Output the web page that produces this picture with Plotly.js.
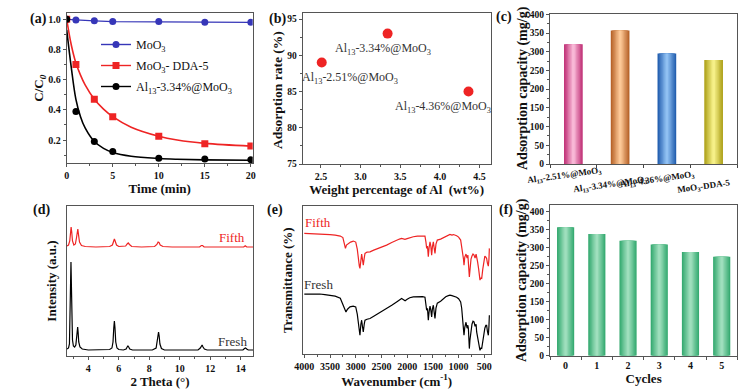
<!DOCTYPE html>
<html><head><meta charset="utf-8">
<script src="https://cdn.plot.ly/plotly-3.0.1.min.js"></script>
<style>html,body{margin:0;padding:0;background:#fff}#chart{width:752px;height:391px}</style>
</head><body><div id="chart"></div>
<script>
// ---- (a) kinetics ----
const timeMin = [0, 1, 3, 5, 10, 15, 20];
const moo3 = [1.0, 0.995, 0.99, 0.985, 0.985, 0.98, 0.98];
const dda5 = [1.0, 0.70, 0.47, 0.355, 0.225, 0.175, 0.16];
const al13 = [1.0, 0.39, 0.19, 0.125, 0.08, 0.075, 0.07];
const fitTime = [0, 0.5, 1, 1.5, 2, 3, 4, 5, 7, 10, 12, 15, 20];
const dda5Fit = [1.0, 0.83, 0.71, 0.63, 0.565, 0.47, 0.405, 0.355, 0.285, 0.225, 0.2, 0.178, 0.16];
const al13Fit = [0.93, 0.68, 0.47, 0.355, 0.28, 0.19, 0.145, 0.118, 0.093, 0.078, 0.073, 0.069, 0.066];
const legendNames = ['MoO<sub>3</sub>', 'MoO<sub>3</sub>- DDA-5', 'Al<sub>13</sub>-3.34%@MoO<sub>3</sub>'];

// ---- (b) adsorption rate ----
const alWt = [2.51, 3.34, 4.36];
const adsRate = [89, 93, 85];
const ptLabels = ['Al<sub>13</sub>-2.51%@MoO<sub>3</sub>', 'Al<sub>13</sub>-3.34%@MoO<sub>3</sub>', 'Al<sub>13</sub>-4.36%@MoO<sub>3</sub>'];
const ptLabelX = [2.87, 3.285, 4.04];
const ptLabelY = [86.9, 90.9, 82.9];

// ---- (c) capacity by sample ----
const capCats = [0, 1, 2, 3];
const capLabels = ['Al<sub>13</sub>-2.51%@MoO<sub>3</sub>', 'Al<sub>13</sub>-3.34%@MoO<sub>3</sub>', 'Al<sub>13</sub>-4.36%@MoO<sub>3</sub>', 'MoO<sub>3</sub>-DDA-5'];
const capValues = [320, 357, 295, 278];

// ---- (d) XRD ----
const xrdFreshX = [2.6,2.7,2.76,2.8,2.83,2.86,2.89,2.92,2.96,3.02,3.1,3.18,3.23,3.27,3.3,3.33,3.37,3.45,3.6,4.0,4.5,5.0,5.4,5.55,5.62,5.67,5.71,5.75,5.8,5.88,6.0,6.3,6.48,6.55,6.6,6.65,6.72,6.9,7.5,8.2,8.45,8.52,8.57,8.61,8.65,8.7,8.8,9.0,10,11.2,11.35,11.42,11.47,11.53,11.62,11.8,13,14.15,14.25,14.32,14.4,14.5,14.83];
const xrdFreshY = [7,8,12,35,75,94,70,35,16,10,9,11,18,27,29,24,14,9,7,6,6,6,6.5,8,14,28,35,28,14,8,6.5,6,7,9,10,9,7,6,6,6,8,14,22,24,20,12,7.5,6,6,6,8,10.5,11,9,7,6,6,6,7.5,8,7,6,6];
const xrdFifthX = [2.6,2.7,2.78,2.83,2.87,2.91,2.96,3.05,3.15,3.22,3.28,3.31,3.35,3.42,3.55,3.8,4.5,5.4,5.58,5.66,5.71,5.76,5.85,6.0,6.45,6.55,6.62,6.7,6.85,7.5,8.35,8.5,8.58,8.64,8.72,8.9,9.5,11.3,11.42,11.5,11.6,14.2,14.3,14.4,14.83];
const xrdFifthY = [110,111,115,124,129,124,115,111,112,118,126,127,122,114,110.5,109.5,109,109.5,111,115,117,115,111,109.5,110,112,113,111.5,109.5,109,109.5,111.5,114,113.5,111,109.5,109,109,110.5,110.5,109,109,110.3,109,109];

// ---- (e) FTIR ----
const irFifthX = [4000,3900,3800,3700,3600,3500,3400,3300,3250,3220,3200,3180,3145,3100,3047,3000,2970,2950,2930,2918,2900,2885,2870,2853,2835,2820,2780,2723,2650,2550,2464,2400,2300,2205,2150,2108,2070,2043,2000,1950,1881,1800,1700,1654,1635,1621,1605,1589,1575,1556,1540,1524,1510,1491,1475,1459,1440,1414,1350,1297,1250,1200,1168,1130,1100,1038,1000,960,940,921,905,895,880,856,835,820,810,800,791,780,759,740,720,700,680,660,649,630,610,595,584,570,551,530,515,506,490,470,455,440,422,410,402];
const irFifthY = [120.7,120.5,120.8,120.5,120,119.5,119,118,116.5,110,105.7,109,110.7,112,113,112,105,92.3,88,85.7,95,100,95,89,96,100.7,102,102.3,104,106,107.3,109,111.5,114,115,115.7,115,114.7,115.5,116.5,117.3,118,118.3,118,112,105.7,108,97.3,106,112.3,108,99,107,112.3,106,100.7,110,114,115,116.3,118,119,119.7,119,119.5,118.3,117,114,108,100.7,95,89,97,100,96,99,94,84,77.3,85,95,98,100,99,96,100,95,92,85,78,74,76,75.7,85,92,96,98,97,95.7,91,88,95,105.7];
const irFreshX = [4000,3900,3800,3700,3600,3500,3400,3300,3250,3220,3190,3160,3112,3050,3000,2970,2950,2930,2918,2900,2885,2870,2853,2835,2820,2780,2723,2650,2550,2464,2400,2300,2205,2150,2108,2070,2040,2000,1950,1881,1800,1700,1654,1635,1621,1605,1589,1575,1556,1540,1524,1510,1491,1475,1459,1440,1414,1350,1297,1250,1200,1168,1130,1100,1038,1000,960,940,921,905,895,880,856,835,820,810,800,791,780,759,740,720,700,680,660,649,630,610,595,584,570,551,530,515,506,490,470,455,440,422,410,402];
const irFreshY = [60,60.3,60.5,60.2,59.5,59,58,56,50,45,42.3,45,47.3,48,47.3,40,29,23,19,30,34,28,22.3,30,34,35,35.7,38,41,44,46,49,52.3,54,55.7,54.5,53.5,55,56.5,57.3,57.5,57.5,57,50,44,46,34,42,48,44,37.3,45,49,42,35.7,46,51,53,55.7,57.5,58.5,59,58.5,58,57,55.5,52.3,46,35.7,28,19,27,32,26,29,25.7,14,5.7,14,26,30,33,32.3,28,30,22.3,18,12,7,4,6,5.7,14,20,22.3,26,29,29,23,19,28,39];

// ---- (f) cycles ----
const cycles = [0, 1, 2, 3, 4, 5];
const cycleCap = [357, 338, 319, 309, 288, 275];

const F = 'Times New Roman, Liberation Serif, serif';
const INK = '#111';
const RED = '#ee2424';
const BLUE = '#3636b8';

function hex(h){return [parseInt(h.slice(1,3),16),parseInt(h.slice(3,5),16),parseInt(h.slice(5,7),16)];}
function mix(a,b,t){const A=hex(a),B=hex(b);return 'rgb('+A.map((v,i)=>Math.round(v+(B[i]-v)*t)).join(',')+')';}
function gradBars(x,y,xa,ya,edges,centers,width){
  const N=7, out=[];
  for(let i=0;i<N;i++){
    const t=i/(N-1);
    out.push({type:'bar',x:x,y:y,xaxis:xa,yaxis:ya,width:width*(1-i/N),
      marker:{color:edges.map((e,k)=>mix(e,centers[k],t)),line:{width:0}},
      showlegend:false,hoverinfo:'skip'});
  }
  return out;
}

const traces = [];
// (a)
traces.push({x:fitTime,y:dda5Fit,xaxis:'x',yaxis:'y',mode:'lines',line:{color:RED,width:1.6,shape:'spline'},showlegend:false});
traces.push({x:fitTime,y:al13Fit,xaxis:'x',yaxis:'y',mode:'lines',line:{color:'#000',width:1.6,shape:'spline'},showlegend:false});
traces.push({x:timeMin,y:moo3,xaxis:'x',yaxis:'y',mode:'lines+markers',line:{color:BLUE,width:1.4},marker:{color:BLUE,size:7},name:legendNames[0],legendgroup:'a'});
traces.push({x:timeMin,y:dda5,xaxis:'x',yaxis:'y',mode:'markers',marker:{color:RED,size:7,symbol:'square'},showlegend:false});
traces.push({x:timeMin,y:al13,xaxis:'x',yaxis:'y',mode:'markers',marker:{color:'#000',size:7},showlegend:false});
traces.push({x:[null],y:[null],xaxis:'x',yaxis:'y',mode:'lines+markers',line:{color:RED,width:1.4},marker:{color:RED,size:7,symbol:'square'},name:legendNames[1],legendgroup:'b'});
traces.push({x:[null],y:[null],xaxis:'x',yaxis:'y',mode:'lines+markers',line:{color:'#000',width:1.4},marker:{color:'#000',size:7},name:legendNames[2],legendgroup:'c'});
// (b)
traces.push({x:alWt,y:adsRate,xaxis:'x2',yaxis:'y2',mode:'markers',marker:{color:RED,size:10},showlegend:false});
// (c)
traces.push(...gradBars(capCats,capValues,'x3','y3',['#c2357a','#b8642a','#2560b0','#b0a41e'],['#f8b8d6','#fcc896','#90c0f2','#f6f088'],0.4));
// (d)
traces.push({x:xrdFifthX,y:xrdFifthY,xaxis:'x4',yaxis:'y4',mode:'lines',line:{color:RED,width:1.2},showlegend:false});
traces.push({x:xrdFreshX,y:xrdFreshY,xaxis:'x4',yaxis:'y4',mode:'lines',line:{color:'#000',width:1.2},showlegend:false});
// (e)
traces.push({x:irFifthX,y:irFifthY,xaxis:'x5',yaxis:'y5',mode:'lines',line:{color:RED,width:1.2},showlegend:false});
traces.push({x:irFreshX,y:irFreshY,xaxis:'x5',yaxis:'y5',mode:'lines',line:{color:'#000',width:1.2},showlegend:false});
// (f)
traces.push(...gradBars(cycles,cycleCap,'x6','y6',cycles.map(()=>'#38ab72'),cycles.map(()=>'#9fdfbd'),0.55));

const TF = {family:F,size:13,weight:'bold',color:INK};
function ax(o){
  const base = {showline:true,mirror:true,linecolor:'#555',linewidth:1,ticks:'outside',ticklen:3,tickwidth:1,tickcolor:'#555',
    showgrid:false,zeroline:false,tickfont:{family:F,size:10,weight:'bold',color:INK}};
  const r = Object.assign(base,o);
  if(o.title) r.title = Object.assign({font:TF},o.title);
  return r;
}
const smallTick = {family:F,size:9.5,weight:'bold',color:INK};
function px(x){return x/752;} function py(y){return 1-y/391;}

const layout = {
  width:752,height:391,margin:{l:0,r:0,t:0,b:0},paper_bgcolor:'#fff',plot_bgcolor:'#fff',
  font:{family:F,color:INK},barmode:'overlay',
  legend:{x:px(96),y:py(30),xanchor:'left',yanchor:'top',bgcolor:'rgba(0,0,0,0)',font:{family:F,size:12,color:INK},itemwidth:30,traceorder:'grouped',tracegroupgap:2},
  xaxis:ax({domain:[px(66.7),px(252.7)],anchor:'y',range:[0,20.2],tickvals:[0,5,10,15,20],minor:{dtick:2.5,ticks:'outside',ticklen:2},title:{text:'Time (min)',standoff:0}}),
  yaxis:ax({domain:[py(163),py(13.3)],anchor:'x',range:[0.048,1.04],tickvals:[0.2,0.4,0.6,0.8,1.0],ticktext:['0.2','0.4','0.6','0.8','1.0'],minor:{dtick:0.1,ticks:'outside',ticklen:2},title:{text:'C/C<sub><i>0</i></sub>',standoff:1}}),
  xaxis2:ax({domain:[px(302.7),px(490.7)],anchor:'y2',range:[2.27,4.64],tick0:2.5,dtick:0.5,tickformat:'.1f',minor:{dtick:0.25,ticks:'outside',ticklen:2},title:{text:'Weight percentage of Al\u00a0 (wt%)',standoff:0}}),
  yaxis2:ax({domain:[py(164),py(13.3)],anchor:'x2',range:[75,95.8],tick0:75,dtick:5,tickfont:smallTick,minor:{dtick:2.5,ticks:'outside',ticklen:2}}),
  xaxis3:ax({domain:[px(550),px(737)],anchor:'y3',range:[-0.5,3.5],tickvals:[0,1,2,3],ticktext:['','','',''],ticks:'',minor:{tickvals:[-0.5,0.5,1.5,2.5,3.5],ticks:'outside',ticklen:3}}),
  yaxis3:ax({domain:[py(164),py(14.3)],anchor:'x3',range:[0,400],dtick:50,tickfont:smallTick,minor:{dtick:25,ticks:'outside',ticklen:2}}),
  xaxis4:ax({domain:[px(66.7),px(253.3)],anchor:'y4',range:[2.58,14.83],tick0:0,dtick:2,minor:{dtick:1,ticks:'outside',ticklen:2},title:{text:'2 Theta (°)',standoff:0}}),
  yaxis4:ax({domain:[py(356),py(206)],anchor:'x4',range:[0,150],showticklabels:false,ticks:'',title:{text:'Intensity (a.u.)',standoff:6}}),
  xaxis5:ax({domain:[px(302.7),px(490.7)],anchor:'y5',range:[4031,376],tickvals:[4000,3500,3000,2500,2000,1500,1000,500],minor:{dtick:250,ticks:'outside',ticklen:2},title:{text:'Wavenumber (cm<sup>-1</sup>)',standoff:0}}),
  yaxis5:ax({domain:[py(354.3),py(206)],anchor:'x5',range:[0,148],showticklabels:false,ticks:'',title:{text:'Transmittance (%)',standoff:6}}),
  xaxis6:ax({domain:[px(550),px(737.3)],anchor:'y6',range:[-0.5,5.5],tickvals:[0,1,2,3,4,5],ticklen:0,minor:{tickvals:[-0.5,0.5,1.5,2.5,3.5,4.5,5.5],ticks:'outside',ticklen:3},title:{text:'Cycles',standoff:0}}),
  yaxis6:ax({domain:[py(355.7),py(205)],anchor:'x6',range:[0,418.6],tickvals:[0,50,100,150,200,250,300,350,400],tickfont:smallTick,minor:{dtick:25,ticks:'outside',ticklen:2}}),
  annotations:[]
};

// y-axis titles placed precisely
const yTitles = [['Adsorption rate (%)',278,90,13.5],['Adsorption capacity (mg/g)',523,88,14],['Adsorption capacity (mg/g)',522,280,14]];
yTitles.forEach(t=>layout.annotations.push({xref:'paper',yref:'paper',x:px(t[1]),y:py(t[2]),text:t[0],textangle:-90,showarrow:false,xanchor:'center',yanchor:'middle',font:{family:F,size:t[3],weight:'bold',color:INK}}));

const panelLbl = [['(a)',38.5,19],['(b)',277,19],['(c)',504,17],['(d)',41,210],['(e)',275,210],['(f)',506,210]];
panelLbl.forEach(p=>layout.annotations.push({xref:'paper',yref:'paper',x:px(p[1]),y:py(p[2]),text:p[0],showarrow:false,font:{family:F,size:14,weight:'bold',color:INK},xanchor:'center',yanchor:'middle'}));

ptLabels.forEach((t,i)=>layout.annotations.push({xref:'x2',yref:'y2',x:ptLabelX[i],y:ptLabelY[i],text:t,showarrow:false,font:{family:F,size:12,color:'#333'},xanchor:'center',yanchor:'middle'}));

const capLabelY = [175, 184, 179, 186];
capLabels.forEach((t,i)=>layout.annotations.push({xref:'x3',yref:'paper',x:capCats[i]-0.2,y:py(capLabelY[i]),text:t,showarrow:false,textangle:-8,font:{family:F,size:9,weight:'bold',color:INK},xanchor:'center',yanchor:'middle'}));

const sideLbl = [['Fifth',232,237,RED],['Fresh',232.5,341,'#333'],['Fifth',318,222,RED],['Fresh',318.5,284,'#333']];
sideLbl.forEach(s=>layout.annotations.push({xref:'paper',yref:'paper',x:px(s[1]),y:py(s[2]),text:s[0],showarrow:false,xanchor:'center',yanchor:'middle',font:{family:F,size:13,color:s[3]}}));

Plotly.newPlot('chart',traces,layout,{displayModeBar:false,staticPlot:true});
</script></body></html>
